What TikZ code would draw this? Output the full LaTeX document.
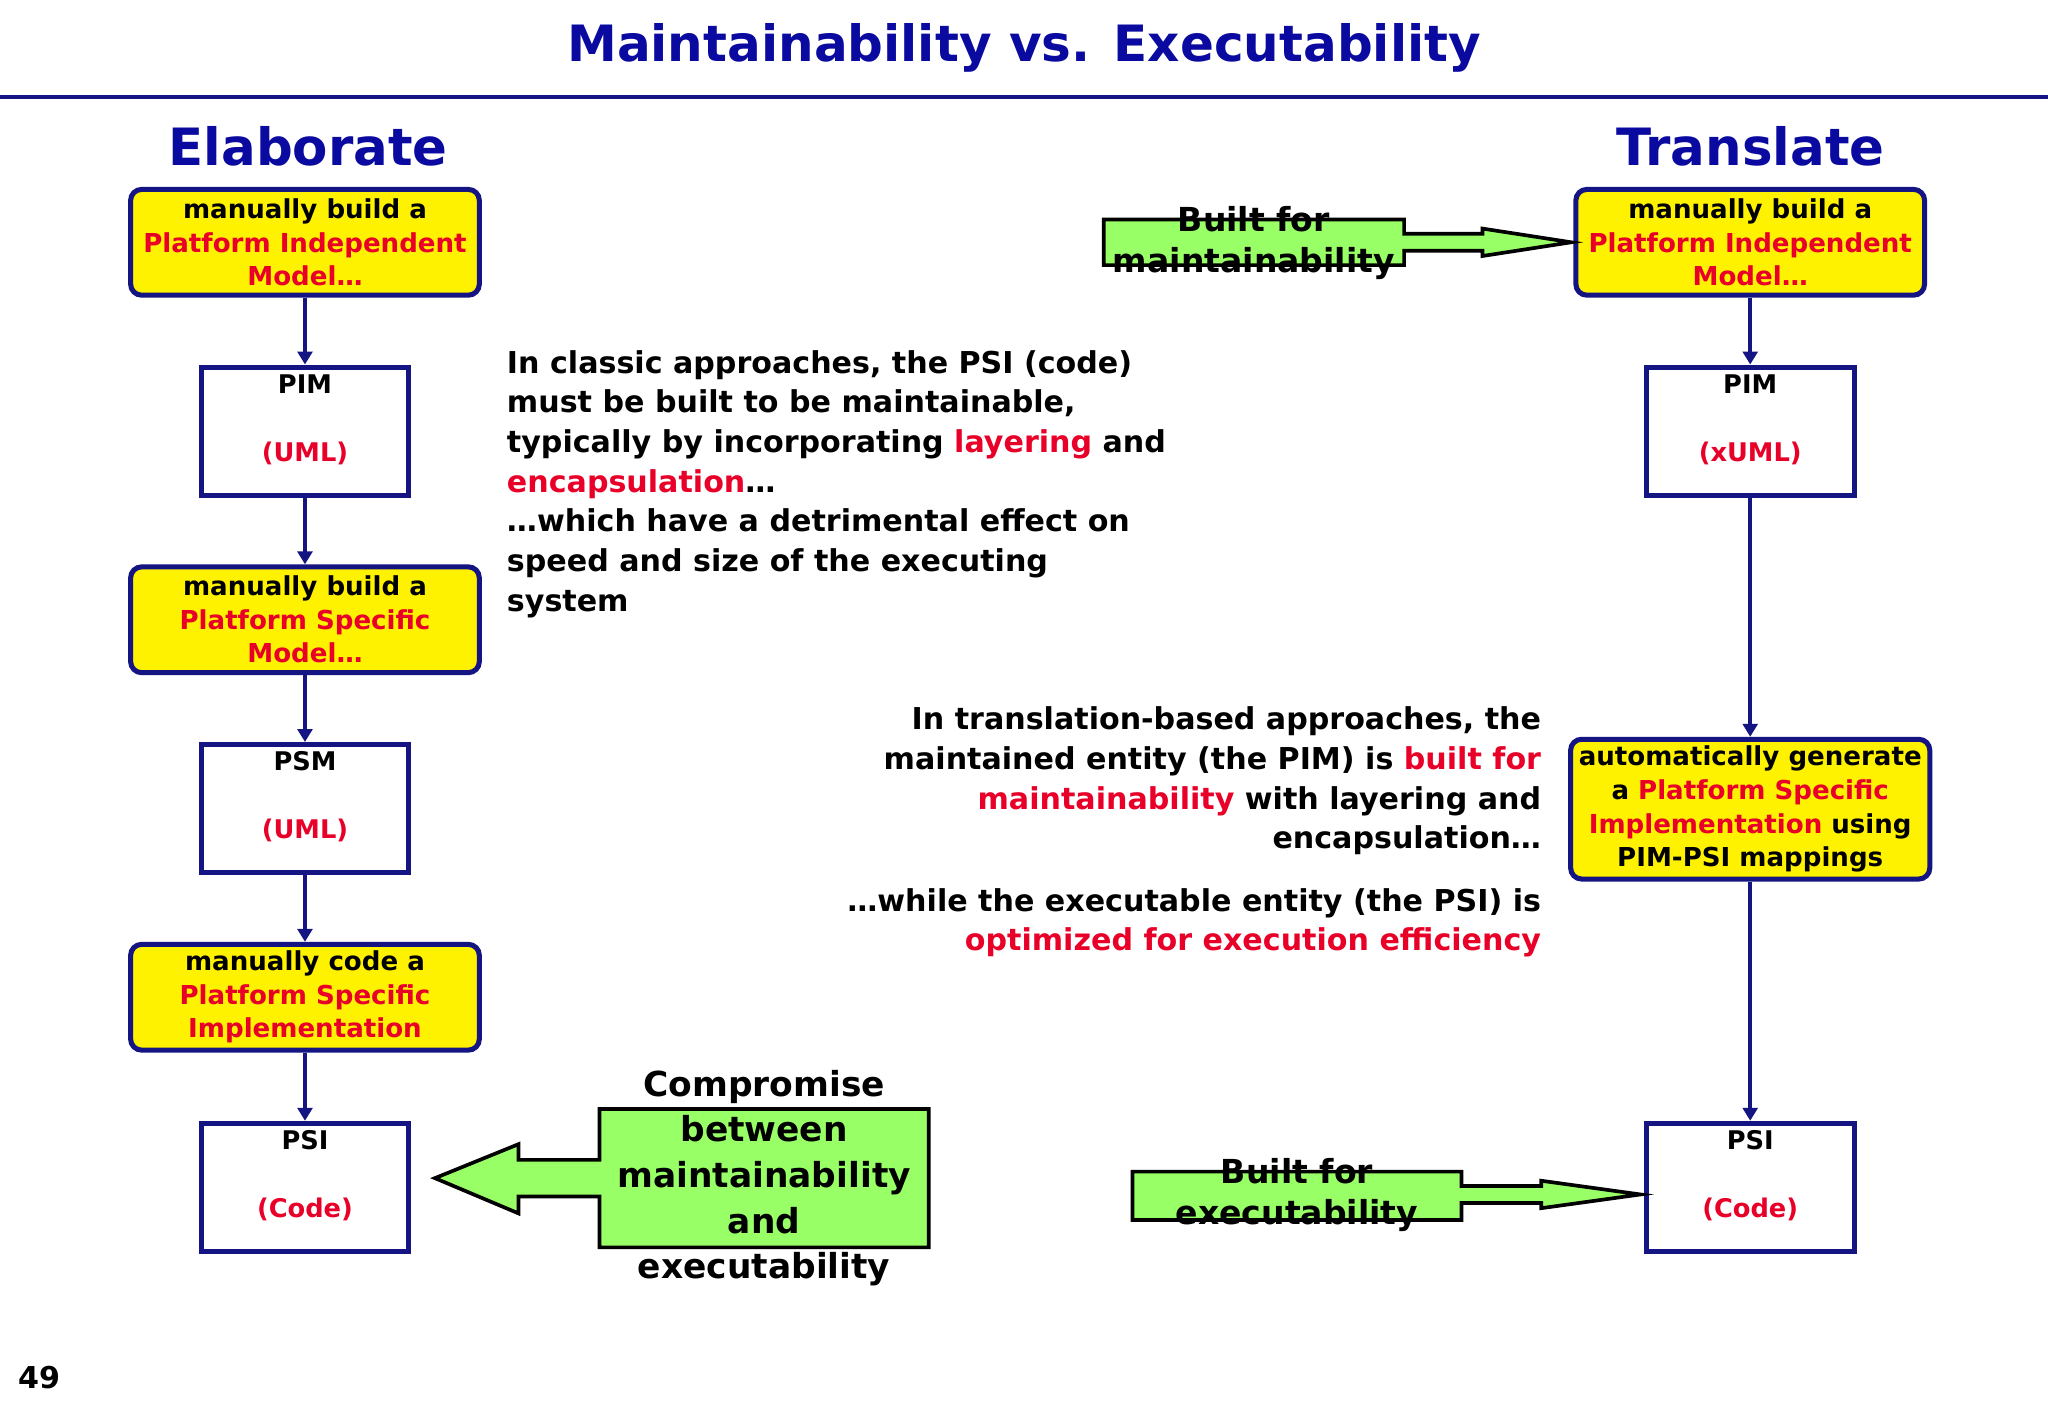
\documentclass[tikz,border=0pt]{standalone}
\usepackage{fontspec}
\setmainfont{DejaVu Sans}
\usetikzlibrary{arrows.meta}
\definecolor{navy}{RGB}{20,20,130}
\definecolor{hl}{RGB}{232,0,40}
\definecolor{grn}{RGB}{153,255,102}
\definecolor{ttl}{RGB}{10,10,160}
\newcommand{\R}[1]{\textcolor{hl}{#1}}
\tikzset{
 ybox/.style={draw=navy,line width=5.5pt,fill=yellow,rounded corners=12pt,minimum width=13.35cm,minimum height=4.05cm,align=center,font=\fontsize{28.4}{36.5}\selectfont\bfseries,inner sep=0pt},
 wbox/.style={draw=navy,line width=5.5pt,fill=white,minimum width=7.95cm,minimum height=4.9cm,inner sep=0pt},
 wtxt/.style={font=\fontsize{28}{32}\selectfont\bfseries},
 conn/.style={draw=navy,line width=4.3pt,-{Triangle[length=14pt,width=16pt]}},
 garrow/.style={draw=black,line width=4pt,fill=grn,line join=miter},
 body/.style={font=\fontsize{32.8}{43.2}\selectfont\bfseries,inner sep=0pt},
 gtxt/.style={font=\fontsize{36}{44}\selectfont\bfseries,inner sep=0pt},
 hdr/.style={text=ttl,font=\fontsize{56}{70}\selectfont\bfseries},
}
\begin{document}
\begin{tikzpicture}[x=0.05cm,y=-0.05cm]
\useasboundingbox (0,0) rectangle (1568,1085);
\node[hdr,font=\fontsize{54.5}{66}\selectfont\bfseries] (title) at (784,37) {Maintainability vs. Executability};
\draw[navy,line width=4.5pt] (0,74) -- (1568,74);
\node[hdr] (el) at (236,112) {Elaborate};
\node[hdr] (tr) at (1340,112) {Translate};
% left column
\node[ybox] (l1) at (233.5,185.5) {manually build a\\\R{Platform Independent}\\\R{Model…}};
\node[wbox] (l2) at (233.5,330) {};
\node[wtxt] (l2a) at (233.5,294) {PIM};
\node[wtxt,text=hl] (l2b) at (233.5,347) {(UML)};
\node[ybox] (l3) at (233.5,474.5) {manually build a\\\R{Platform Specific}\\\R{Model…}};
\node[wbox] (l4) at (233.5,619) {};
\node[wtxt] (l4a) at (233.5,583) {PSM};
\node[wtxt,text=hl] (l4b) at (233.5,636) {(UML)};
\node[ybox] (l5) at (233.5,763.5) {manually code a\\\R{Platform Specific}\\\R{Implementation}};
\node[wbox] (l6) at (233.5,909) {};
\node[wtxt] (l6a) at (233.5,873) {PSI};
\node[wtxt,text=hl] (l6b) at (233.5,926) {(Code)};
\draw[conn] (l1) -- (l2);
\draw[conn] (l2) -- (l3);
\draw[conn] (l3) -- (l4);
\draw[conn] (l4) -- (l5);
\draw[conn] (l5) -- (l6);
% right column
\node[ybox] (r1) at (1340,185.5) {manually build a\\\R{Platform Independent}\\\R{Model…}};
\node[wbox] (r2) at (1340,330) {};
\node[wtxt] (r2a) at (1340,294) {PIM};
\node[wtxt,text=hl] (r2b) at (1340,347) {(xUML)};
\node[ybox,minimum width=13.75cm,minimum height=5.35cm] (r3) at (1340,619.5) {automatically generate\\a \R{Platform Specific}\\\R{Implementation} using\\PIM-PSI mappings};
\node[wbox] (r4) at (1340,909) {};
\node[wtxt] (r4a) at (1340,873) {PSI};
\node[wtxt,text=hl] (r4b) at (1340,926) {(Code)};
\draw[conn] (r1) -- (r2);
\draw[conn] (r2) -- (r3);
\draw[conn] (r3) -- (r4);
% green arrows
\draw[garrow] (845,168) -- (1075,168) -- (1075,179) -- (1135,179) -- (1135,175) -- (1203,185.5) -- (1135,196) -- (1135,192) -- (1075,192) -- (1075,203) -- (845,203) -- cycle;
\node[gtxt,align=center] (g1) at (960,186) {Built for\\maintainability};
\draw[garrow] (867,897) -- (1119,897) -- (1119,908) -- (1180,908) -- (1180,904) -- (1256,914.5) -- (1180,925) -- (1180,921) -- (1119,921) -- (1119,934) -- (867,934) -- cycle;
\node[gtxt,align=center] (g2) at (993,915) {Built for\\executability};
\draw[garrow] (711,849) -- (711,955) -- (459,955) -- (459,916) -- (397,916) -- (397,929) -- (333,902) -- (397,876) -- (397,888) -- (459,888) -- (459,849) -- cycle;
\node[font=\fontsize{37.5}{49.7}\selectfont\bfseries,align=center] (g3) at (585,902) {Compromise\\between\\maintainability\\and\\executability};
% texts
\node[body,anchor=north west,align=left] (t1) at (388,268) {In classic approaches, the PSI (code)\\must be built to be maintainable,\\typically by incorporating \R{layering} and\\\R{encapsulation}…\\…which have a detrimental effect on\\speed and size of the executing\\system};
\node[body,anchor=north east,align=right] (t2) at (1180,541) {In translation-based approaches, the\\maintained entity (the PIM) is \R{built for}\\\R{maintainability} with layering and\\encapsulation…};
\node[body,anchor=north east,align=right] (t3) at (1180,680) {…while the executable entity (the PSI) is\\\R{optimized for execution efficiency}};
\node[body] (pg) at (30,1055) {49};
\end{tikzpicture}
\end{document}
